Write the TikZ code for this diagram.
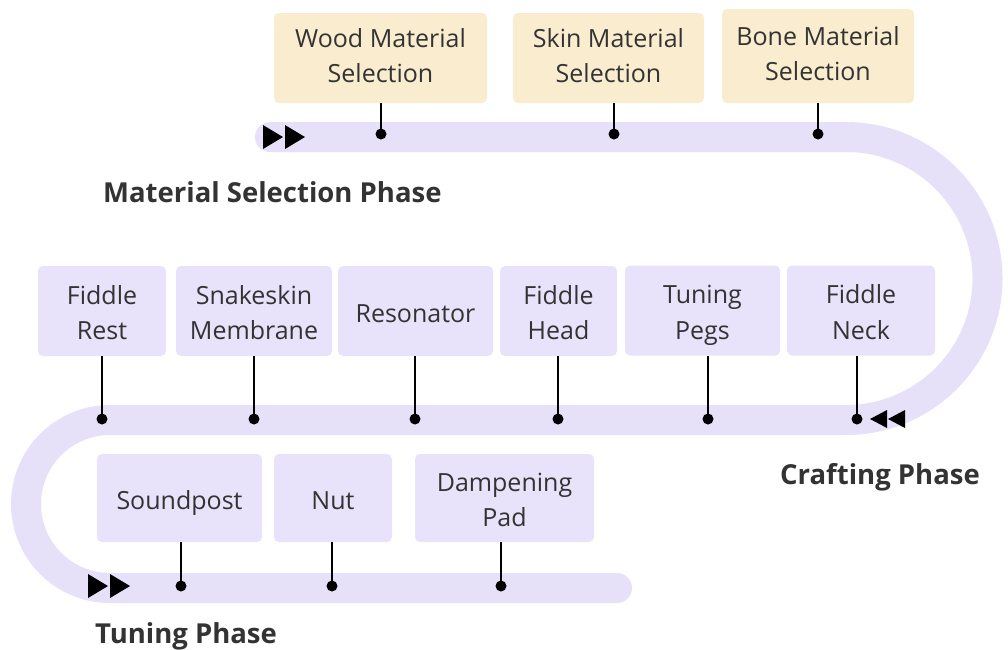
\documentclass[tikz,border=0pt]{standalone}
\usepackage{fontspec}
\setmainfont{Open Sans}
\newcommand\mytstrut{\rule{0pt}{33pt}}
\begin{document}
\begin{tikzpicture}[x=1pt,y=-1pt,
  band/.style={line width=30pt,draw=bandc,line cap=round},
  tbox/.style={fill=cream,rounded corners=5pt,align=center,text=txt,inner sep=0pt,
    font=\fontsize{25}{35.5}\selectfont},
  pbox/.style={fill=lav,rounded corners=5pt,align=center,text=txt,inner sep=0pt,
    font=\fontsize{25}{35.5}\selectfont},
  phase/.style={text=txt,font=\fontsize{27.5}{32}\selectfont\bfseries,inner sep=0pt},
  conn/.style={line width=2.2pt,draw=black},
  dotm/.style={fill=black},
  tri/.style={fill=black}]
\definecolor{bandc}{HTML}{E6E1F8}
\definecolor{cream}{HTML}{FAEDCF}
\definecolor{lav}{HTML}{E8E3FA}
\definecolor{txt}{HTML}{333333}
\useasboundingbox (0,0) rectangle (1008,649);
\fill[white] (0,0) rectangle (1008,649);
% track
\draw[band] (270,137) -- (846,137) arc[start angle=90,end angle=-90,radius=141.5pt]
  -- (110,420) arc[start angle=90,end angle=270,radius=84pt] -- (617,588);
% arrows
\fill[tri] (263,125) -- (283,137) -- (263,149) -- cycle;
\fill[tri] (285,125) -- (305,137) -- (285,149) -- cycle;
\fill[tri] (887,410) -- (870,419) -- (887,428) -- cycle;
\fill[tri] (905,410) -- (888,419) -- (905,428) -- cycle;
\fill[tri] (88,574) -- (108,586) -- (88,598) -- cycle;
\fill[tri] (110,574) -- (130,586) -- (110,598) -- cycle;
% top boxes
\node[tbox,minimum width=213pt,minimum height=90pt] (wood) at (380.5,58) {\strut Wood Material\\\strut Selection};
\node[tbox,minimum width=191pt,minimum height=90pt] (skin) at (608.5,58) {\strut Skin Material\\\strut Selection};
\node[tbox,minimum width=192pt,minimum height=94pt] (bone) at (818,56) {\strut Bone Material\\\strut Selection};
% middle boxes
\node[pbox,minimum width=128pt,minimum height=90pt] (rest) at (102,311) {\mytstrut\strut Fiddle\\\strut Rest};
\node[pbox,minimum width=156pt,minimum height=90pt] (snake) at (254,311) {\mytstrut\strut Snakeskin\\\strut Membrane};
\node[pbox,minimum width=155pt,minimum height=90pt] (reso) at (415.5,311) {\mytstrut\strut Resonator};
\node[pbox,minimum width=117pt,minimum height=90pt] (head) at (558.5,311) {\mytstrut\strut Fiddle\\\strut Head};
\node[pbox,minimum width=155pt,minimum height=90pt] (pegs) at (702.5,310.5) {\mytstrut\strut Tuning\\\strut Pegs};
\node[pbox,minimum width=148pt,minimum height=90pt] (neck) at (861,310.5) {\mytstrut\strut Fiddle\\\strut Neck};
% bottom boxes
\node[pbox,minimum width=165pt,minimum height=88pt] (sound) at (179.5,498) {\mytstrut\strut Soundpost};
\node[pbox,minimum width=118pt,minimum height=88pt] (nut) at (333,498) {\mytstrut\strut Nut};
\node[pbox,minimum width=179pt,minimum height=88pt] (damp) at (504.5,498) {\mytstrut\strut Dampening\\\strut Pad};
% dots
\coordinate (dW) at (381,134);
\coordinate (dS) at (614,134);
\coordinate (dB) at (818,134);
\coordinate (dR) at (102,419);
\coordinate (dSn) at (254,419);
\coordinate (dRe) at (415,419);
\coordinate (dH) at (558,419);
\coordinate (dP) at (708,419);
\coordinate (dN) at (857,419);
\coordinate (dSo) at (181,586);
\coordinate (dNu) at (332,586);
\coordinate (dD) at (501,586);
\foreach \d/\b in {dW/wood,dS/skin,dB/bone,dR/rest,dSn/snake,dRe/reso,dH/head,dP/pegs,dN/neck,dSo/sound,dNu/nut,dD/damp}{
  \draw[conn] (\d) -- (\d |- \b.south);
  \fill[dotm] (\d) circle (5.5pt);
}
% phase labels
\node[phase,anchor=west] (p1) at (103,192) {Material Selection Phase};
\node[phase] (p2) at (880,477) {Crafting Phase};
\node[phase,anchor=west] (p3) at (95,636) {Tuning Phase};
\end{tikzpicture}
\end{document}
